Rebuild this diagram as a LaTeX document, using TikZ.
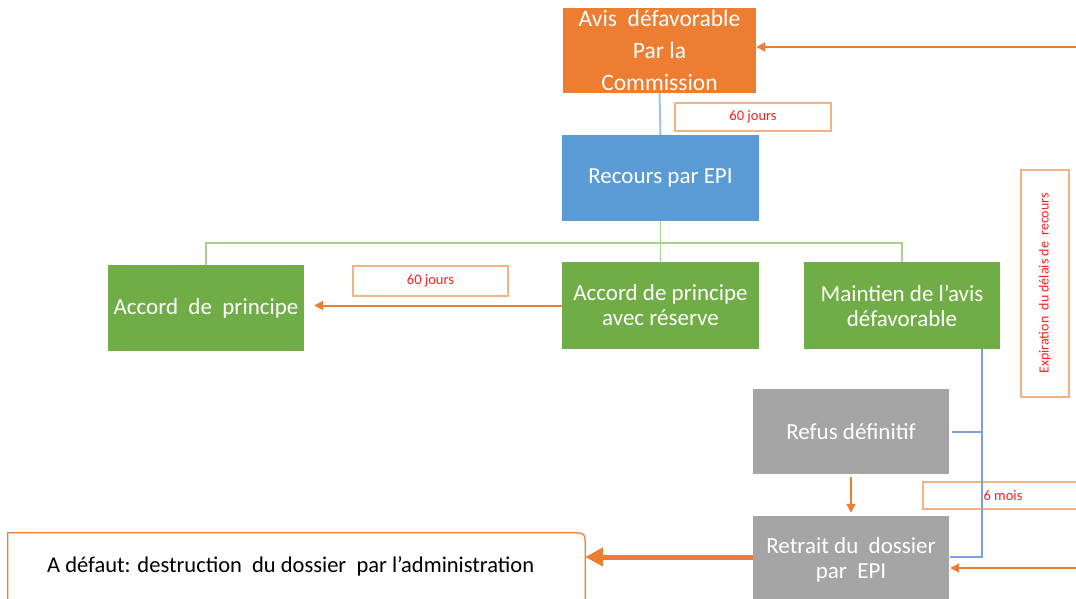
\documentclass[tikz,border=0pt]{standalone}
\usepackage{fontspec}
\setmainfont{Carlito}
\usetikzlibrary{arrows.meta,calc}

\definecolor{avisorange}{HTML}{ED7D31}
\definecolor{recblue}{HTML}{5B9BD5}
\definecolor{accgreen}{HTML}{70AD47}
\definecolor{refgray}{HTML}{A5A5A5}
\definecolor{tagline}{HTML}{F4B183}
\definecolor{tagred}{HTML}{FF2020}
\definecolor{linkblue}{HTML}{9DC3E6}
\definecolor{sideblue}{HTML}{7F9FDC}
\definecolor{linkgreen}{HTML}{A9D18E}

\tikzset{
  stepbox/.style={inner sep=0pt, align=center, text=white,
    font=\fontsize{23}{25}\selectfont, minimum width=196pt},
  tagbox/.style={draw=tagline, line width=1.3pt, fill=white, text=tagred,
    inner sep=0pt, font=\fontsize{14.5}{16}\selectfont},
  flow/.style={draw=avisorange, line width=2pt,
    -{Triangle[length=9pt,width=9pt]}},
  bigflow/.style={draw=avisorange, line width=5pt,
    -{Triangle[length=18pt,width=18pt]}},
  tree/.style={draw=linkgreen, line width=1.5pt},
}

\begin{document}
\begin{tikzpicture}[x=1pt,y=-1pt]
\useasboundingbox (0,0) rectangle (1076,599);
\clip (0,0) rectangle (1076,599);

% boxes of the procedure
\node[stepbox, fill=avisorange, minimum width=193pt, minimum height=85pt,
      font=\fontsize{23.5}{32}\selectfont] (avis) at (659.5,50.5)
  {Avis~~défavorable\\Par la\\Commission};
\node[stepbox, fill=recblue, minimum width=197pt, minimum height=86pt]
  (recours) at (660.5,178) {Recours par EPI};
\node[stepbox, fill=accgreen, minimum height=86pt]
  (accord) at (206,308) {Accord~~de~~principe};
\node[stepbox, fill=accgreen, minimum width=197pt, minimum height=87pt]
  (reserve) at (660.5,305.5) {Accord de principe\\avec réserve};
\node[stepbox, fill=accgreen, minimum height=87pt]
  (maintien) at (902,305.5) {Maintien de l’avis\\défavorable};
\node[stepbox, fill=refgray, minimum height=85pt]
  (refus) at (851,431.5) {Refus définitif};
\node[stepbox, fill=refgray, minimum height=88pt]
  (retrait) at (851,560) {Retrait du~~dossier\\par~~EPI};

% delay labels
\node[tagbox, minimum width=156pt, minimum height=28pt] (t60a) at (753,117) {60 jours};
\node[tagbox, minimum width=155pt, minimum height=30pt] (t60b) at (430.5,281) {60 jours};
\node[tagbox, minimum width=160pt, minimum height=27pt] (t6m) at (1003,495.5) {6 mois};
\node[tagbox, minimum width=48pt, minimum height=227pt] (texp) at (1045,283.5) {};
\node[text=tagred, font=\fontsize{14}{16}\selectfont, rotate=90, inner sep=0pt]
  (exp) at (texp.center) {Expiration~~du délais de~~recours};

% final outcome
\node[minimum width=577pt, minimum height=72pt, inner sep=0pt] (adef) at (296.5,569) {};
\node[font=\fontsize{22.5}{26}\selectfont, text=black, anchor=west, inner sep=0pt]
  (adeftext) at (47,566) {A défaut: destruction~~du dossier~~par l’administration};
\draw[draw=avisorange, line width=1.3pt]
  (adef.south west) -- (adef.north west) -- ([xshift=-14pt]adef.north east)
  .. controls (adef.north east) .. ([yshift=-14pt]adef.north east)
  -- (adef.south east);

% links
\draw[draw=linkblue, line width=2pt] (avis.south) -- (recours.north);
\coordinate (fork) at ([yshift=-22pt]recours.south);
\draw[tree] (recours.south) -- (fork);
\draw[tree] (fork) -| (accord.north);
\draw[tree] (fork) -| (maintien.north);
\draw[tree] (fork) -- (reserve.north);

\coordinate (side) at ([xshift=-18pt]maintien.south east);
\draw[draw=sideblue, line width=2pt]
  (side) -- ([yshift=3pt]side |- retrait.center) -- ([xshift=1pt,yshift=3pt]retrait.east);
\draw[draw=sideblue, line width=2pt] ([xshift=3pt]refus.east) -- (refus.east -| side);

\coordinate (fromright1) at (1080,47);
\coordinate (fromright2) at (1080,568);
\coordinate (leftout) at ([yshift=3pt]retrait.west);
\draw[flow] (fromright1) -- (avis.east |- fromright1);
\draw[flow] (fromright2) -- ([xshift=1pt]retrait.east |- fromright2);
\draw[flow] (reserve.west) -- ([xshift=10pt]accord.east |- reserve.west);
\draw[flow] ([yshift=-3pt]refus.south) -- ([yshift=3pt]retrait.north);
\draw[bigflow] (leftout) -- (adef.east |- leftout);
\end{tikzpicture}
\end{document}
